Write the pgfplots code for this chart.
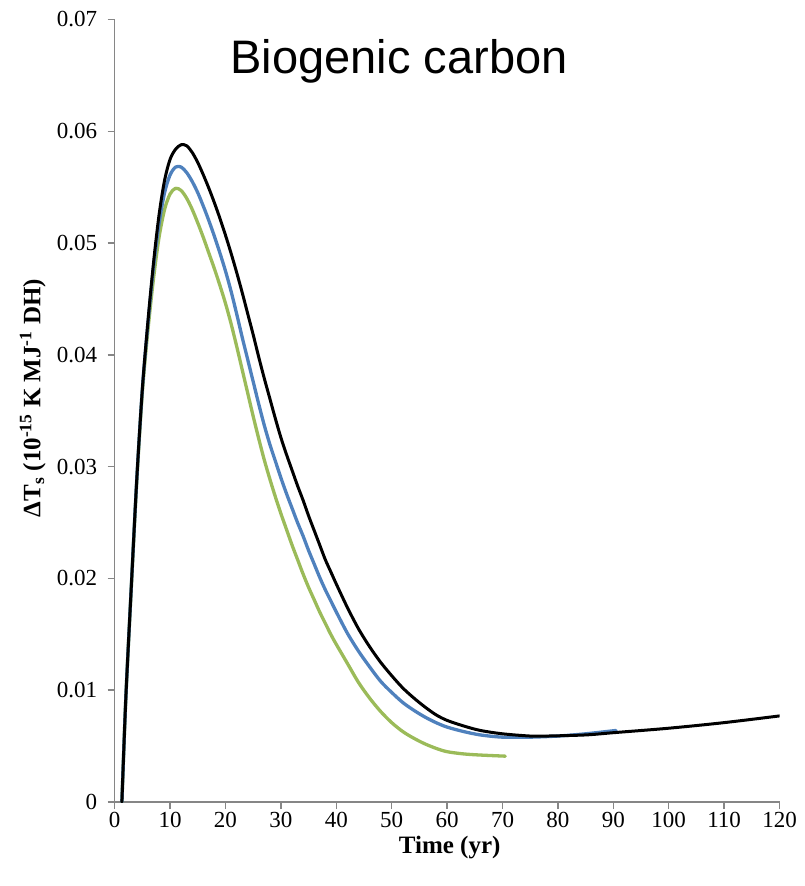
\documentclass[border=0pt]{standalone}
\usepackage{pgfplots}
\pgfplotsset{compat=1.18}
\usepackage{fontspec}
\setmainfont{Liberation Serif}
\newfontfamily\arialfont{Liberation Sans}
\definecolor{exblue}{HTML}{4F81BD}
\definecolor{exgreen}{HTML}{9BBB59}
\definecolor{axgray}{HTML}{868686}
\begin{document}
\begin{tikzpicture}
\begin{axis}[
  scale only axis,
  width=664.8pt, height=782.5pt,
  xmin=0, xmax=120, ymin=0, ymax=0.07,
  axis x line*=bottom, axis y line*=left,
  axis line style={-, draw=axgray, line width=1.6pt},
  tick align=outside,
  major tick length=7pt,
  tick style={axgray, line width=1.5pt},
  xtick={0,10,20,30,40,50,60,70,80,90,100,110,120},
  xticklabels={0,10,20,30,40,50,60,70,80,90,100,110,120},
  ytick={0,0.01,0.02,0.03,0.04,0.05,0.06,0.07},
  yticklabels={0,0.01,0.02,0.03,0.04,0.05,0.06,0.07},
  scaled y ticks=false,
  ticklabel style={font=\fontsize{23}{23}\selectfont},
  yticklabel style={xshift=-7pt},
]
\addplot[exgreen, line width=3.3pt, smooth, line join=round, line cap=round] coordinates {
(1.3,0)(2,0.0092)(3,0.0192)(4,0.0288)(5,0.0367)(6,0.0422)(7,0.0468)(8,0.0505)(9,0.0530)(10,0.0544)(11,0.0549)(12,0.0547)(13,0.0540)(14,0.0530)(15,0.0518)(16,0.0505)(17,0.0491)(18,0.0477)(19,0.0462)(20,0.0446)(21,0.0428)(22,0.0408)(23,0.0387)(24,0.0366)(25,0.0345)(26,0.0325)(27,0.0306)(28,0.0289)(29,0.0273)(30,0.0258)(31,0.0244)(32,0.0230)(33,0.0217)(34,0.0204)(35,0.0192)(36,0.0181)(37,0.0170)(38,0.0160)(39,0.0150)(40,0.0141)(42,0.0124)(44,0.0107)(46,0.0093)(48,0.0081)(50,0.0071)(52,0.0063)(54,0.0057)(56,0.0052)(58,0.0048)(60,0.0045)(63,0.0043)(66,0.0042)(70.5,0.0041)
};
\addplot[exblue, line width=3.3pt, smooth, line join=round, line cap=round] coordinates {
(1.3,0)(2,0.0092)(3,0.0193)(4,0.0290)(5,0.0370)(6,0.0428)(7,0.0478)(8,0.0517)(9,0.0545)(10,0.0561)(11,0.0568)(12,0.0568)(13,0.0563)(14,0.0555)(15,0.0545)(16,0.0533)(17,0.0520)(18,0.0506)(19,0.0491)(20,0.0475)(21,0.0457)(22,0.0437)(23,0.0416)(24,0.0396)(25,0.0376)(26,0.0356)(27,0.0337)(28,0.0320)(29,0.0305)(30,0.0290)(31,0.0276)(32,0.0263)(33,0.0250)(34,0.0238)(35,0.0225)(36,0.0213)(37,0.0201)(38,0.0190)(39,0.0180)(40,0.0170)(42,0.0151)(44,0.0135)(46,0.0121)(48,0.0108)(50,0.0098)(52,0.0089)(54,0.0082)(56,0.0076)(58,0.0071)(60,0.0067)(63,0.0063)(66,0.0060)(70,0.0058)(75,0.0058)(80,0.0059)(85,0.0061)(90.5,0.0064)
};
\addplot[black, line width=3pt, smooth, line join=round, line cap=round] coordinates {
(1.3,0)(2,0.0092)(3,0.0193)(4,0.0290)(5,0.0370)(6,0.0430)(7,0.0482)(8,0.0525)(9,0.0556)(10,0.0575)(11,0.0584)(12,0.0588)(13,0.0587)(14,0.0581)(15,0.0572)(16,0.0561)(17,0.0549)(18,0.0536)(19,0.0522)(20,0.0507)(21,0.0491)(22,0.0474)(23,0.0456)(24,0.0437)(25,0.0418)(26,0.0398)(27,0.0379)(28,0.0361)(29,0.0343)(30,0.0326)(31,0.0311)(32,0.0297)(33,0.0283)(34,0.0270)(35,0.0256)(36,0.0243)(37,0.0230)(38,0.0217)(39,0.0206)(40,0.0195)(42,0.0174)(44,0.0155)(46,0.0139)(48,0.0125)(50,0.0113)(52,0.0102)(54,0.0093)(56,0.0085)(58,0.0078)(60,0.0073)(63,0.0068)(66,0.0064)(70,0.0061)(75,0.0059)(78,0.0059)(85,0.0060)(90,0.0062)(100,0.0066)(110,0.0071)(120,0.0077)
};
\end{axis}
\node[anchor=base, font=\arialfont\fontsize{47}{47}\selectfont] at (284.3pt,728pt) {Biogenic carbon};
\node[anchor=base, font=\bfseries\fontsize{25}{25}\selectfont] at (335pt,-51pt) {Time (yr)};
\node[rotate=90, font=\bfseries\fontsize{25}{25}\selectfont] at (-82pt,404pt) {ΔT\textsubscript{s} (10\textsuperscript{-15} K MJ\textsuperscript{-1} DH)};
\path (-114.7pt,-84pt) rectangle (689.3pt,802pt);
\end{tikzpicture}
\end{document}
